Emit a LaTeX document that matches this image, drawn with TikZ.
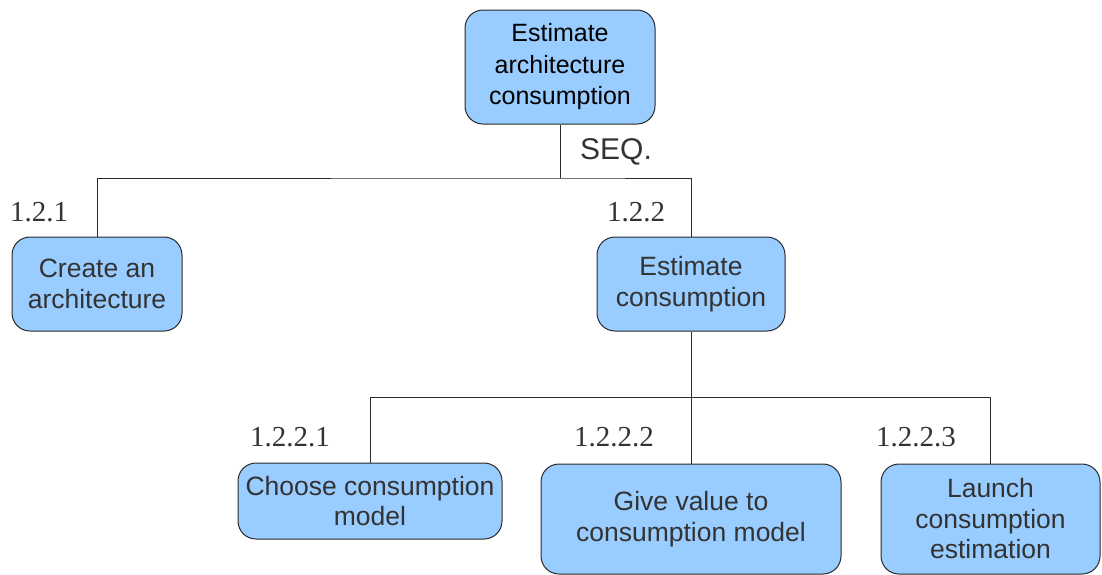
\documentclass[tikz,border=0pt]{standalone}
\usepackage{fontspec}
\setmainfont{Liberation Sans}
\newfontfamily\numfont{Liberation Serif}
\definecolor{boxfill}{HTML}{99CCFF}
\definecolor{txt}{HTML}{333333}
\definecolor{edge}{HTML}{2A2A2A}
\begin{document}
\begin{tikzpicture}[x=1pt,y=-1pt,
  task/.style={draw=edge, line width=1pt, fill=boxfill, rounded corners=18pt,
    inner sep=0pt, align=center, text=txt,
    font=\fontsize{26.5}{30.5}\selectfont},
  conn/.style={draw=edge, line width=1pt},
  num/.style={text=txt, inner sep=0pt, font=\numfont\fontsize{29}{32}\selectfont},
  seq/.style={text=txt, inner sep=0pt, font=\fontsize{30}{34}\selectfont}]
\useasboundingbox (0,0) rectangle (1102,574);
\node[task, text=black, font=\fontsize{25}{31.5}\selectfont, minimum width=190pt, minimum height=114pt] (top) at (560,67)
  {Estimate\\architecture\\consumption};
\node[task, minimum width=170pt, minimum height=94pt] (n121) at (97,284)
  {Create an\\architecture};
\node[task, minimum width=188pt, minimum height=94pt] (n122) at (691,284)
  {Estimate\\consumption};
\node[task, minimum width=264pt, minimum height=76pt] (n1221) at (370,501)
  {Choose consumption\\model};
\node[task, minimum width=300pt, minimum height=110pt] (n1222) at (691,519)
  {Give value to\\consumption model};
\node[task, minimum width=219pt, minimum height=110pt] (n1223) at (990.5,519)
  {Launch\\consumption\\estimation};
\coordinate (j1) at (560,178);
\coordinate (j2) at (691,397);
\draw[conn] (top.south) -- (j1);
\draw[conn] (n121.north) |- (j1) -| (n122.north);
\draw[conn] (n122.south) -- (j2);
\draw[conn] (n1221.north) |- (j2) -| (n1223.north);
\draw[conn] (j2) -- (n1222.north);
\node[seq] (seq) at (616,152) {SEQ.};
\node[num] (l121) at (39,212) {1.2.1};
\node[num] (l122) at (636,212) {1.2.2};
\node[num] (l1221) at (290,437) {1.2.2.1};
\node[num] (l1222) at (614,437) {1.2.2.2};
\node[num] (l1223) at (916,437) {1.2.2.3};
\end{tikzpicture}
\end{document}
